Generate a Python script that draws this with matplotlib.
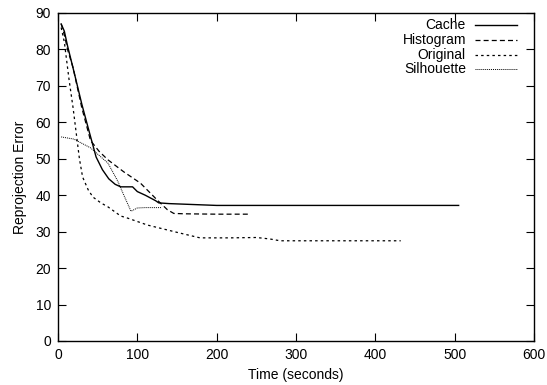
import matplotlib
matplotlib.use("Agg")
import matplotlib.pyplot as plt

plt.rcParams['font.family'] = ['Liberation Sans', 'DejaVu Sans']

cache_x = [4, 8, 12, 20, 30, 38, 48, 56, 64, 72, 79, 94, 100, 110, 123, 127, 140, 200, 300, 400, 505]
cache_y = [87, 85, 81, 74, 65, 58.5, 50.5, 47, 44.5, 43, 42.3, 42.3, 41, 40, 38.5, 37.9, 37.7, 37.2, 37.2, 37.2, 37.2]

hist_x = [4, 8, 12, 19, 30, 41, 52, 63, 83, 104, 125, 138, 146, 160, 200, 243]
hist_y = [87, 84, 80, 75, 64, 55, 52, 49.7, 46.4, 43.3, 38.7, 36, 35, 34.9, 34.8, 34.8]

orig_x = [4, 8, 14, 19, 23, 27, 31, 38, 44, 54, 63, 79, 88, 113, 154, 179, 217, 250, 267, 280, 350, 432]
orig_y = [86, 82, 71.6, 64, 57, 50, 45, 41.5, 39.5, 37.9, 36.8, 34.3, 33.7, 31.8, 29.6, 28.3, 28.3, 28.4, 28.0, 27.5, 27.5, 27.5]

sil_x = [4, 20, 41, 63, 75, 83, 92, 100, 110, 131]
sil_y = [56, 55.4, 53, 48.8, 44, 40, 35.6, 36.5, 36.6, 36.6]

series = [
    ("Cache", cache_x, cache_y, '-', 1.0),
    ("Histogram", hist_x, hist_y, (0, (4, 2.5)), 0.9),
    ("Original", orig_x, orig_y, (0, (2, 2.5)), 0.9),
    ("Silhouette", sil_x, sil_y, (0, (1, 1)), 0.7),
]

xticks = [0, 100, 200, 300, 400, 500, 600]
yticks = [0, 10, 20, 30, 40, 50, 60, 70, 80, 90]

FS = 10

fig = plt.figure(figsize=(5.47, 3.85), dpi=100)
ax = fig.add_axes([58/547, 1 - 341/385, (534-58)/547, (341-13)/385])

for name, xs, ys, ls, lw in series:
    ax.plot(xs, ys, color='black', linestyle=ls, linewidth=lw)

ax.set_xlim(0, 600)
ax.set_ylim(0, 90)
ax.set_xticks(xticks)
ax.set_yticks(yticks)
ax.tick_params(direction='in', length=6, width=0.8, top=True, right=True, labelsize=FS, pad=5)
for s in ax.spines.values():
    s.set_linewidth(1.0)
ax.set_xlabel("Time (seconds)", fontsize=FS, labelpad=4)
ax.set_ylabel("Reprojection Error", fontsize=FS, labelpad=6)

# gnuplot-style legend: right-aligned labels, samples on the right
text_right = (466-58)/476
line_x0 = (475-58)/476
line_x1 = (517-58)/476
rows_py = [25, 40, 55, 69]
for (name, xs, ys, ls, lw), py in zip(series, rows_py):
    yf = (341-py)/328
    ax.text(text_right, yf, name, transform=ax.transAxes, ha='right', va='center', fontsize=FS)
    ax.plot([line_x0, line_x1], [yf, yf], transform=ax.transAxes, color='black',
            linestyle=ls, linewidth=lw)

fig.savefig("out.png", dpi=100)
